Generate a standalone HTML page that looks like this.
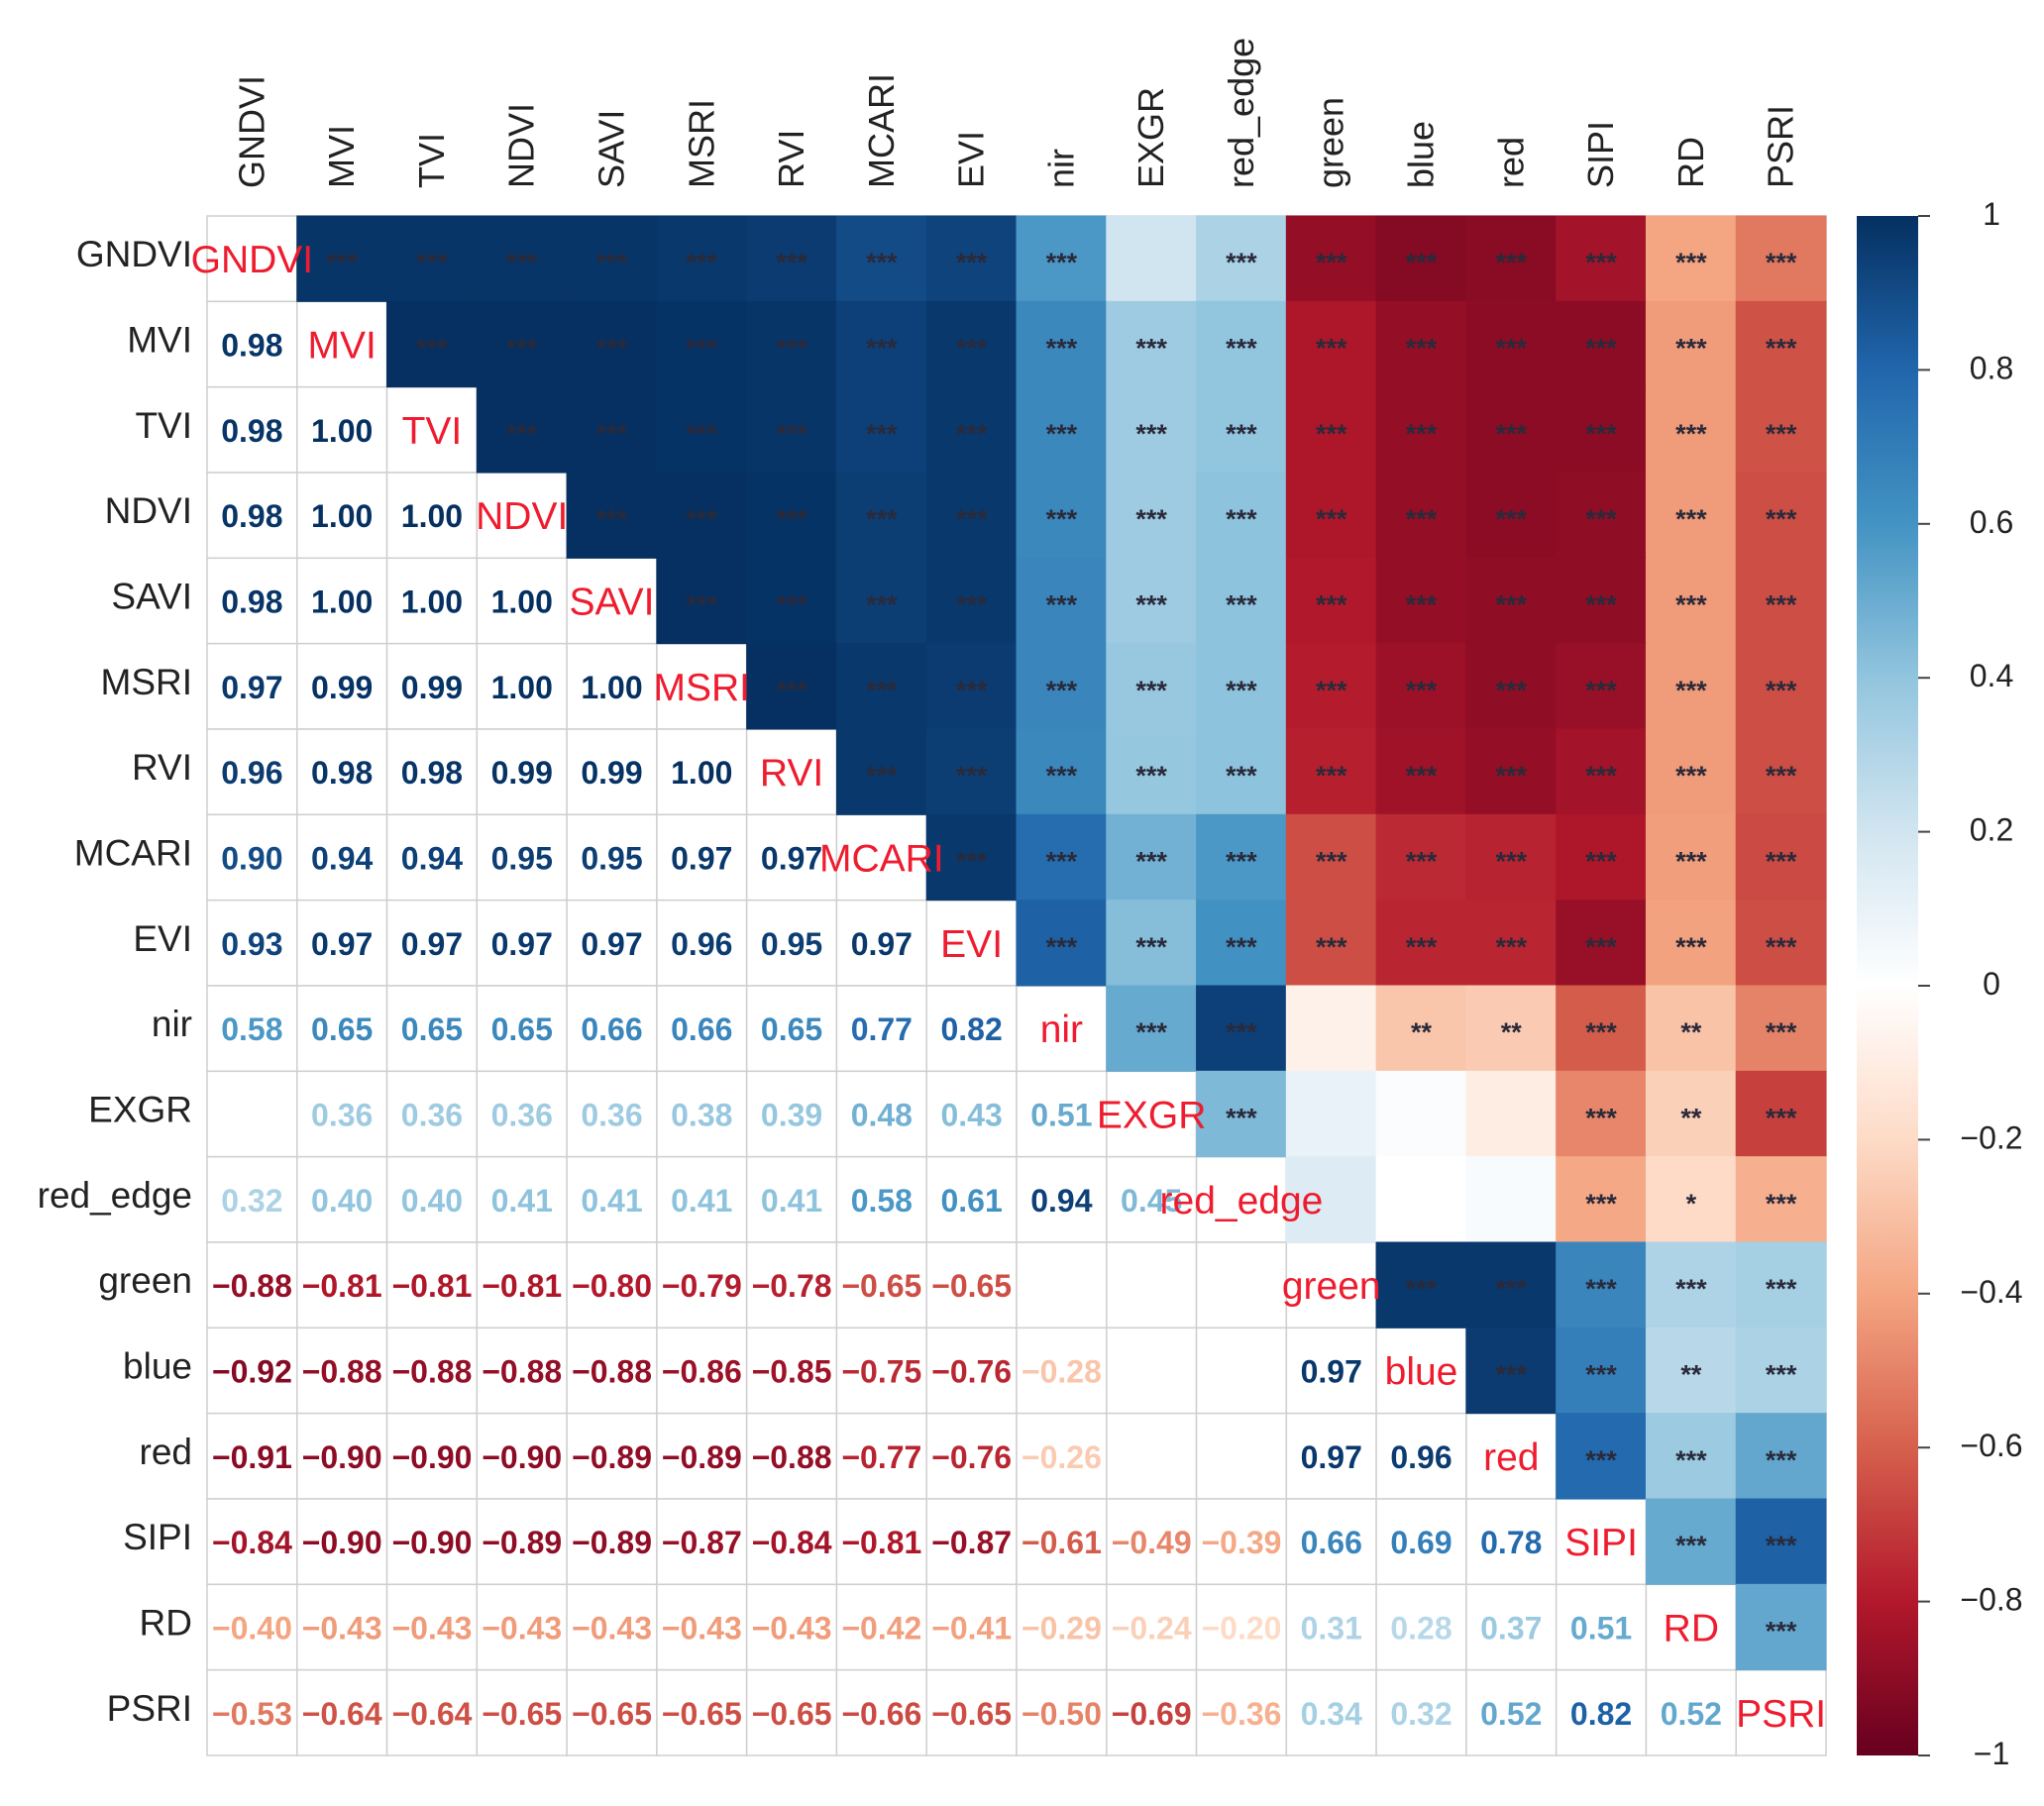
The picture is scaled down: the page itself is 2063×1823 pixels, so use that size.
<!DOCTYPE html>
<html><head><meta charset="utf-8"><style>
html,body{margin:0;padding:0;background:#fff;}
svg{display:block;font-family:"Liberation Sans",Arial,sans-serif;}
</style></head><body>
<svg id="chart" width="2063" height="1823" viewBox="0 0 2063 1823">
<defs><linearGradient id="cbgrad" x1="0" y1="1" x2="0" y2="0">
<stop offset="0" stop-color="#67001F"/><stop offset="0.1" stop-color="#B2182B"/><stop offset="0.2" stop-color="#D6604D"/><stop offset="0.3" stop-color="#F4A582"/><stop offset="0.4" stop-color="#FDDBC7"/><stop offset="0.5" stop-color="#FFFFFF"/><stop offset="0.6" stop-color="#D1E5F0"/><stop offset="0.7" stop-color="#92C5DE"/><stop offset="0.8" stop-color="#4393C3"/><stop offset="0.9" stop-color="#2166AC"/><stop offset="1" stop-color="#053061"/>
</linearGradient></defs>
</svg>
<script>
const variables = ["GNDVI","MVI","TVI","NDVI","SAVI","MSRI","RVI","MCARI","EVI","nir","EXGR","red_edge","green","blue","red","SIPI","RD","PSRI"];
// lower triangle: row i has i values (correlation with cols 0..i-1)
const lowerValues = [
 [],
 [0.98],
 [0.98,1.00],
 [0.98,1.00,1.00],
 [0.98,1.00,1.00,1.00],
 [0.97,0.99,0.99,1.00,1.00],
 [0.96,0.98,0.98,0.99,0.99,1.00],
 [0.90,0.94,0.94,0.95,0.95,0.97,0.97],
 [0.93,0.97,0.97,0.97,0.97,0.96,0.95,0.97],
 [0.58,0.65,0.65,0.65,0.66,0.66,0.65,0.77,0.82],
 [0.20,0.36,0.36,0.36,0.36,0.38,0.39,0.48,0.43,0.51],
 [0.32,0.40,0.40,0.41,0.41,0.41,0.41,0.58,0.61,0.94,0.45],
 [-0.88,-0.81,-0.81,-0.81,-0.80,-0.79,-0.78,-0.65,-0.65,-0.08,0.10,0.15],
 [-0.92,-0.88,-0.88,-0.88,-0.88,-0.86,-0.85,-0.75,-0.76,-0.28,0.02,0.00,0.97],
 [-0.91,-0.90,-0.90,-0.90,-0.89,-0.89,-0.88,-0.77,-0.76,-0.26,-0.10,0.03,0.97,0.96],
 [-0.84,-0.90,-0.90,-0.89,-0.89,-0.87,-0.84,-0.81,-0.87,-0.61,-0.49,-0.39,0.66,0.69,0.78],
 [-0.40,-0.43,-0.43,-0.43,-0.43,-0.43,-0.43,-0.42,-0.41,-0.29,-0.24,-0.20,0.31,0.28,0.37,0.51],
 [-0.53,-0.64,-0.64,-0.65,-0.65,-0.65,-0.65,-0.66,-0.65,-0.50,-0.69,-0.36,0.34,0.32,0.52,0.82,0.52]
];
// significance stars ("" = not significant)
const significance = [
 [],
 ["***"],
 ["***","***"],
 ["***","***","***"],
 ["***","***","***","***"],
 ["***","***","***","***","***"],
 ["***","***","***","***","***","***"],
 ["***","***","***","***","***","***","***"],
 ["***","***","***","***","***","***","***","***"],
 ["***","***","***","***","***","***","***","***","***"],
 ["","***","***","***","***","***","***","***","***","***"],
 ["***","***","***","***","***","***","***","***","***","***","***"],
 ["***","***","***","***","***","***","***","***","***","","",""],
 ["***","***","***","***","***","***","***","***","***","**","","","***"],
 ["***","***","***","***","***","***","***","***","***","**","","","***","***"],
 ["***","***","***","***","***","***","***","***","***","***","***","***","***","***","***"],
 ["***","***","***","***","***","***","***","***","***","**","**","*","***","**","***","***"],
 ["***","***","***","***","***","***","***","***","***","***","***","***","***","***","***","***","***"]
];
const colorbarTicks = [1,0.8,0.6,0.4,0.2,0,-0.2,-0.4,-0.6,-0.8,-1];
const tickLabels = ["1","0.8","0.6","0.4","0.2","0","\u22120.2","\u22120.4","\u22120.6","\u22120.8","\u22121"];

const palette = ["#67001F","#B2182B","#D6604D","#F4A582","#FDDBC7","#FFFFFF","#D1E5F0","#92C5DE","#4393C3","#2166AC","#053061"];
function hex(h){return [1,3,5].map(i=>parseInt(h.substr(i,2),16));}
function colorOf(v){
  const t=(v+1)/2*10; const i=Math.min(9,Math.floor(t)); const f=t-i;
  const a=hex(palette[i]), b=hex(palette[i+1]);
  return "rgb("+a.map((c,k)=>Math.round(c+(b[k]-c)*f)).join(",")+")";
}
const X0=209, Y0=218, W=1634, H=1554, n=variables.length;
const cw=W/n, ch=H/n;
const xs=j=>X0+j*cw, ys=i=>Y0+i*ch;
const svg=document.getElementById("chart"), NS="http://www.w3.org/2000/svg";
function mk(tag,attrs,parent){const e=document.createElementNS(NS,tag);for(const k in attrs)e.setAttribute(k,attrs[k]);(parent||svg).appendChild(e);return e;}
function corr(i,j){return i>j?lowerValues[i][j]:lowerValues[j][i];}
function sig(i,j){return i>j?significance[i][j]:significance[j][i];}

const grid=mk("g",{});


for(let i=0;i<n;i++)for(let j=0;j<n;j++){
  mk("rect",{x:xs(j),y:ys(i),width:cw,height:ch,fill:"#fff",stroke:"#cfcfcf","stroke-width":1.5},grid);
}
for(let i=0;i<n;i++)for(let j=0;j<n;j++){
  if(j>i){
    const v=corr(i,j);
    const r=mk("rect",{x:xs(j)-0.5,y:ys(i)-0.5,width:cw+1,height:ch+1,fill:colorOf(v)});
    
    
    const s=sig(i,j);
    if(s){const t=mk("text",{x:xs(j)+cw/2,y:ys(i)+ch/2+13,"text-anchor":"middle","font-size":27,fill:"#2a2a3a","font-weight":"bold"});t.textContent=s;
      
      }
  } else if(j<i){
    const v=corr(i,j);
    if(sig(i,j)){
      const t=mk("text",{x:xs(j)+cw/2,y:ys(i)+ch/2+12,"text-anchor":"middle","font-size":32,"font-weight":"bold",fill:colorOf(v)});
      t.textContent=(v<0?"\u2212":"")+Math.abs(v).toFixed(2);
      
      
    }
  }
}
for(let i=0;i<n;i++){
  const d=mk("text",{x:xs(i)+cw/2,y:ys(i)+ch/2+14,"text-anchor":"middle","font-size":39,fill:"#ee1c2e"});
  d.textContent=variables[i];
  
  
  const rl=mk("text",{x:X0-15,y:ys(i)+ch/2+8,"text-anchor":"end","font-size":37,fill:"#222"});
  rl.textContent=variables[i];
  
  
  const cx=xs(i)+cw/2+12, cy=Y0-28;
  const cl=mk("text",{x:cx,y:cy,"font-size":36,fill:"#222",transform:"rotate(-90 "+cx+" "+cy+")"});
  cl.textContent=variables[i];
  
  
}
const cb=mk("rect",{x:1874,y:Y0,width:62,height:H,fill:"url(#cbgrad)"});


colorbarTicks.forEach((v,k)=>{
  const y=Y0+(1-v)/2*H;
  const tk=mk("line",{x1:1936,x2:1948,y1:y,y2:y,stroke:"#444","stroke-width":2});
  
  
  const t=mk("text",{x:2010,y:y+9,"text-anchor":"middle","font-size":32,fill:"#222"});
  t.textContent=tickLabels[k];
  
  
});
</script>
</body></html>
